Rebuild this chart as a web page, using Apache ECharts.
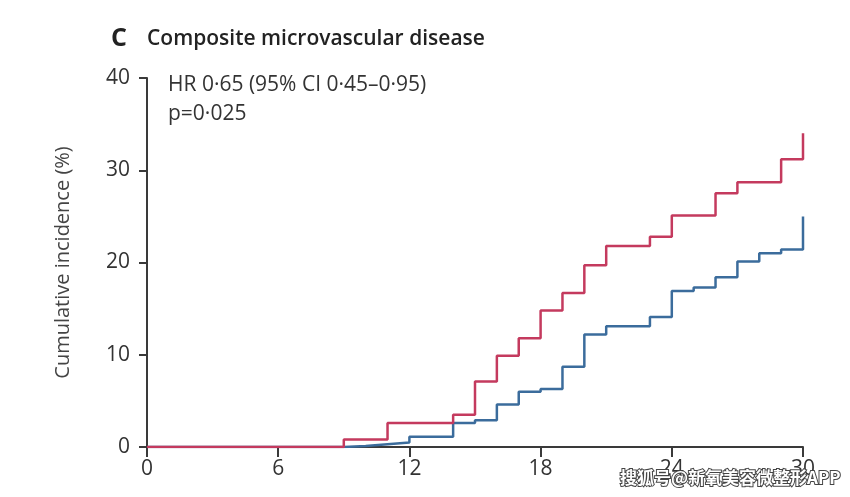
<!DOCTYPE html>
<html>
<head>
<meta charset="utf-8">
<script src="https://cdn.jsdelivr.net/npm/echarts@6/dist/echarts.min.js"></script>
<style>
html,body{margin:0;padding:0;background:#fff;}
#chart{width:850px;height:497px;}
</style>
</head>
<body>
<div id="chart"></div>
<script>
// Months at which each curve steps, and cumulative incidence (%) after the step
const redMonths  = [0, 9, 11, 14, 15, 16, 17, 18, 19, 20, 21, 23, 24, 26, 27, 29, 30];
const redValues  = [0, 0.8, 2.6, 3.5, 7.1, 9.9, 11.8, 14.8, 16.7, 19.7, 21.8, 22.8, 25.1, 27.5, 28.7, 31.2, 34.0];
const blueMonths = [0, 9, 10, 11, 12, 14, 15, 16, 17, 18, 19, 20, 21, 23, 24, 25, 26, 27, 28, 29, 30];
const blueValues = [0, 0.1, 0.3, 0.5, 1.1, 2.6, 2.9, 4.6, 6.0, 6.3, 8.7, 12.2, 13.1, 14.1, 16.9, 17.3, 18.4, 20.1, 21.0, 21.4, 25.0];
const xTicks = [0, 6, 12, 18, 24, 30];
const yTicks = [0, 10, 20, 30, 40];
const titleLetter = 'C';
const titleText = 'Composite microvascular disease';
const yAxisName = 'Cumulative incidence (%)';
const annot1 = 'HR 0·65 (95% CI 0·45–0·95)';
const annot2 = 'p=0·025';
const watermark = '搜狐号@新氧美容微整形APP';

const font = '"Open Sans", "Noto Sans", sans-serif';
const axisColor = '#3a3a3a';
const redData = redMonths.map((m, i) => [m, redValues[i]]);
const blueData = blueMonths.map((m, i) => [m, blueValues[i]]);

const chart = echarts.init(document.getElementById('chart'), null, {renderer: 'canvas'});
chart.setOption({
  backgroundColor: '#fff',
  animation: false,
  grid: {left: 147, right: 47, top: 78, bottom: 50},
  xAxis: {
    type: 'value', min: 0, max: 30, interval: 6,
    axisLine: {show: true, lineStyle: {color: axisColor, width: 2}},
    axisTick: {show: true, length: 10, lineStyle: {color: axisColor, width: 2}},
    axisLabel: {color: '#333', fontSize: 21, fontFamily: font, margin: 12,
      formatter: v => xTicks.includes(v) ? String(v) : ''},
    splitLine: {show: false}
  },
  yAxis: {
    type: 'value', min: 0, max: 40, interval: 10,
    name: yAxisName, nameLocation: 'middle', nameGap: 74,
    nameTextStyle: {color: '#444', fontSize: 20, fontFamily: font},
    axisLine: {show: true, lineStyle: {color: axisColor, width: 2}},
    axisTick: {show: true, length: 8, lineStyle: {color: axisColor, width: 2}},
    axisLabel: {color: '#333', fontSize: 21, fontFamily: font, margin: 17,
      formatter: v => yTicks.includes(v) ? String(v) : ''},
    splitLine: {show: false}
  },
  series: [
    {type: 'line', step: 'end', data: blueData, symbol: 'none',
     lineStyle: {color: '#3b6c9c', width: 2.5}, z: 3},
    {type: 'line', step: 'end', data: redData, symbol: 'none',
     lineStyle: {color: '#c43a5e', width: 2.5}, z: 4}
  ],
  graphic: [
    {type: 'text', left: 111, top: 26, style: {text: titleLetter, fill: '#222', font: 'bold 25px ' + font}},
    {type: 'text', left: 147, top: 29, style: {text: titleText, fill: '#222', font: '600 21px ' + font}},
    {type: 'text', left: 168, top: 75, style: {text: annot1, fill: '#333', font: '21px ' + font}},
    {type: 'text', left: 168, top: 104, style: {text: annot2, fill: '#333', font: '21px ' + font}},
    {type: 'text', left: 619, top: 468, style: {text: watermark, fill: '#fff', stroke: '#444', lineWidth: 2, font: 'bold 17px "Noto Sans CJK SC", sans-serif'}, z: 100}
  ]
});
</script>
</body>
</html>
